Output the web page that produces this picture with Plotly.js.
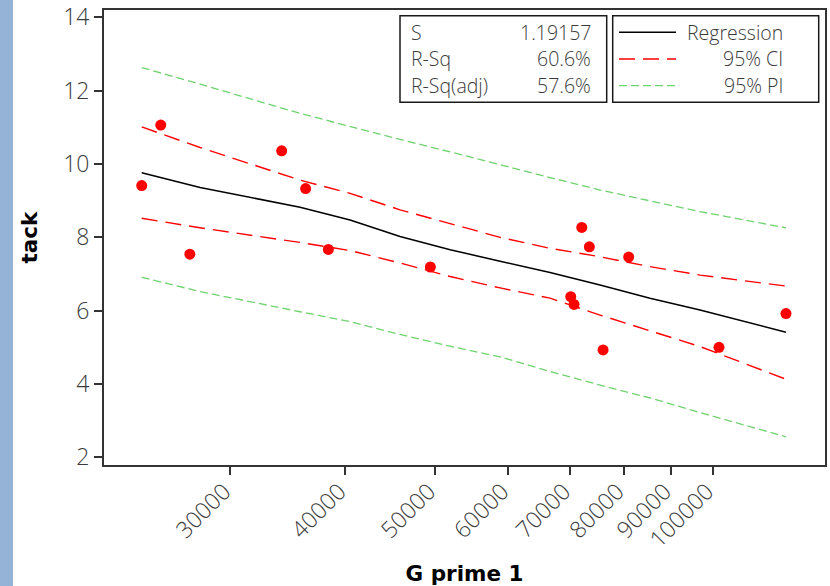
<!DOCTYPE html>
<html>
<head>
<meta charset="utf-8">
<script src="https://cdn.plot.ly/plotly-3.0.1.min.js"></script>
<style>html,body{margin:0;padding:0;background:#fff;}#chart{width:830px;height:586px;}</style>
</head>
<body>
<div id="chart"></div>
<script>
// Observed data
var gprime = [24070, 25240, 27140, 34120, 36220, 38330, 49430, 70140, 70720, 72100, 73470, 76030, 81040, 101500, 119950];
var tack   = [9.41, 11.06, 7.54, 10.36, 9.33, 7.67, 7.19, 6.38, 6.17, 8.27, 7.74, 4.93, 7.46, 5.00, 5.92];

// Fitted line and bands
var fitX   = [24070, 27840, 35720, 40460, 45830, 51930, 58810, 66610, 75450, 85460, 96810, 119950];
var fitY   = [9.76, 9.36, 8.82, 8.47, 8.02, 7.66, 7.35, 7.04, 6.70, 6.34, 6.02, 5.41];
var ciHigh = [11.01, 10.45, 9.56, 9.20, 8.75, 8.38, 8.00, 7.70, 7.47, 7.20, 6.97, 6.67];
var ciLow  = [8.52, 8.26, 7.86, 7.64, 7.30, 6.93, 6.62, 6.34, 5.88, 5.45, 5.02, 4.13];
var piHigh = [12.63, 12.18, 11.38, 11.02, 10.67, 10.33, 9.97, 9.63, 9.29, 8.99, 8.70, 8.26];
var piLow  = [6.91, 6.52, 5.97, 5.70, 5.35, 5.03, 4.74, 4.34, 3.97, 3.62, 3.22, 2.56];

var xTickVals = [30000, 40000, 50000, 60000, 70000, 80000, 90000, 100000];
var xTickText = ['30000', '40000', '50000', '60000', '70000', '80000', '90000', '100000'];
var yTickVals = [2, 4, 6, 8, 10, 12, 14];

var statLabels = ['S', 'R-Sq', 'R-Sq(adj)'];
var statValues = ['1.19157', '60.6%', '57.6%'];
var legendLabels = ['Regression', '95% CI', '95% PI'];

var RED = '#ff0000', GREEN = '#6fd36f', BLACK = '#000000';
var tickFont = {family: 'Open Sans, sans-serif', size: 23, color: '#3a3a3a', weight: 300};
var boxFont = {family: 'Open Sans, sans-serif', size: 19.5, color: '#3a3a3a', weight: 300};

var traces = [
  {x: fitX, y: piHigh, mode: 'lines', line: {color: GREEN, width: 1.3, dash: '8px,4px'}, hoverinfo: 'skip'},
  {x: fitX, y: piLow,  mode: 'lines', line: {color: GREEN, width: 1.3, dash: '8px,4px'}, hoverinfo: 'skip'},
  {x: fitX, y: ciHigh, mode: 'lines', line: {color: RED, width: 1.4, dash: '16px,8px'}, hoverinfo: 'skip'},
  {x: fitX, y: ciLow,  mode: 'lines', line: {color: RED, width: 1.4, dash: '16px,8px'}, hoverinfo: 'skip'},
  {x: fitX, y: fitY,   mode: 'lines', line: {color: BLACK, width: 1.5}},
  {x: gprime, y: tack, mode: 'markers', marker: {color: RED, size: 11}}
];

// paper coords helpers (plot area: x 104..825, y 10..465)
function px(v){ return (v - 104) / 721; }
function py(v){ return (465 - v) / 455; }

var shapes = [
  {type: 'rect', xref: 'paper', yref: 'paper', x0: px(0), x1: px(13), y0: py(586), y1: py(0),
   fillcolor: '#95b3d7', line: {width: 0}, layer: 'below'},
  {type: 'rect', xref: 'paper', yref: 'paper', x0: px(400), x1: px(606.7), y0: py(102.3), y1: py(15.7),
   fillcolor: '#ffffff', line: {color: '#1a1a1a', width: 1.5}},
  {type: 'rect', xref: 'paper', yref: 'paper', x0: px(612.7), x1: px(818.7), y0: py(102.3), y1: py(15.7),
   fillcolor: '#ffffff', line: {color: '#1a1a1a', width: 1.5}}
];
var rowY = [32.3, 59, 85.7];
var legStyles = [
  {color: BLACK, width: 1.5, dash: 'solid'},
  {color: RED, width: 1.4, dash: '16px,8px'},
  {color: GREEN, width: 1.3, dash: '8px,4px'}
];
var annotations = [];
for (var i = 0; i < 3; i++) {
  shapes.push({type: 'line', xref: 'paper', yref: 'paper', x0: px(619), x1: px(676), y0: py(rowY[i]), y1: py(rowY[i]),
               line: legStyles[i]});
  annotations.push({xref: 'paper', yref: 'paper', x: px(409), y: py(rowY[i]), xanchor: 'left', yanchor: 'middle',
                    text: statLabels[i], showarrow: false, font: boxFont});
  annotations.push({xref: 'paper', yref: 'paper', x: px(593), y: py(rowY[i]), xanchor: 'right', yanchor: 'middle',
                    text: statValues[i], showarrow: false, font: boxFont});
  annotations.push({xref: 'paper', yref: 'paper', x: px(785), y: py(rowY[i]), xanchor: 'right', yanchor: 'middle',
                    text: legendLabels[i], showarrow: false, font: boxFont});
}

var layout = {
  width: 830, height: 586,
  margin: {l: 104, r: 5, t: 10, b: 121, pad: 0},
  paper_bgcolor: '#ffffff', plot_bgcolor: '#ffffff',
  showlegend: false,
  xaxis: {
    type: 'log', range: [Math.log10(21910), Math.log10(132200)],
    tickvals: xTickVals, ticktext: xTickText, tickangle: -45,
    ticks: 'outside', ticklen: 8, tickwidth: 2, tickcolor: '#333333',
    ticklabelstandoff: -6, ticklabelshift: -6,
    showline: true, mirror: true, linecolor: '#333333', linewidth: 2,
    showgrid: false, zeroline: false, tickfont: tickFont,
    title: {text: 'G prime 1', font: {family: 'DejaVu Sans, sans-serif', size: 21.5, color: '#000000', weight: 'bold'}, standoff: 13},
    automargin: false
  },
  yaxis: {
    range: [1.79, 14.2], tickvals: yTickVals,
    ticks: 'outside', ticklen: 8, tickwidth: 2, tickcolor: '#333333',
    showline: true, mirror: true, linecolor: '#333333', linewidth: 2,
    showgrid: false, zeroline: false, tickfont: tickFont,
    title: {text: 'tack', font: {family: 'DejaVu Sans, sans-serif', size: 21.5, color: '#000000', weight: 'bold'}, standoff: 20},
    automargin: false
  },
  shapes: shapes,
  annotations: annotations
};

Plotly.newPlot('chart', traces, layout, {displayModeBar: false, staticPlot: true});
</script>
</body>
</html>
